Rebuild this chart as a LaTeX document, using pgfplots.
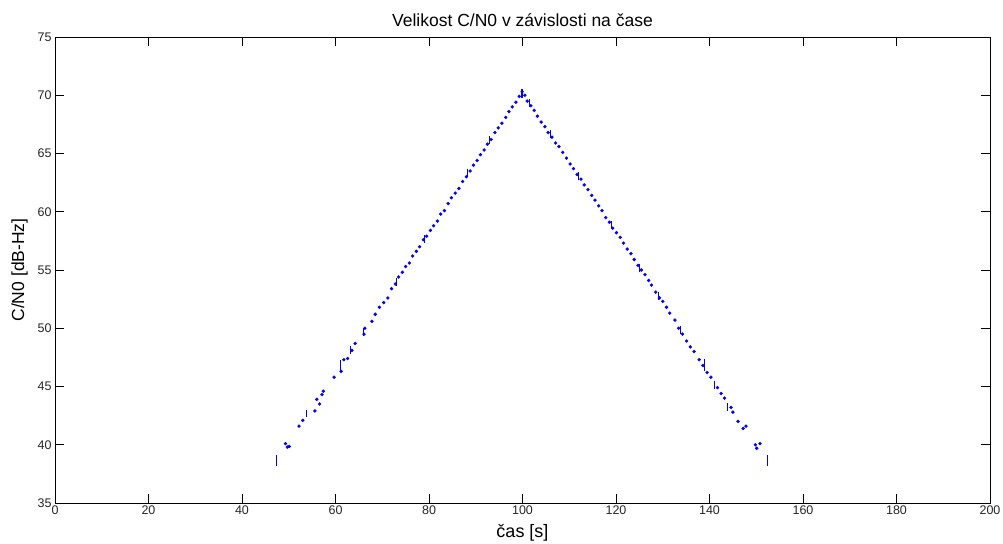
\documentclass[border=0pt]{standalone}
\usepackage{fontspec}
\setmainfont{Liberation Sans}
\usepackage{pgfplots}
\pgfplotsset{compat=1.18}
\begin{document}
\begin{tikzpicture}
\path[use as bounding box] (-55pt,-40pt) rectangle (948pt,503pt);
\begin{axis}[
  scale only axis,
  width=935pt, height=466pt,
  xmin=0, xmax=200, ymin=35, ymax=75,
  xtick={0,20,...,200}, ytick={35,40,...,75},
  tick align=inside,
  major tick length=9pt,
  axis line style={black, line width=0.8pt},
  tick style={black, line width=0.6pt},
  /pgf/number format/assume math mode=true,
  tick label style={font=\fontsize{12.5}{14}\selectfont, text=black!85},
  xticklabel style={yshift=1pt},
  title={Velikost C/N0 v závislosti na čase},
  title style={font=\fontsize{17.5}{20}\selectfont, yshift=1pt},
  xlabel={čas [s]},
  ylabel={C/N0 [dB-Hz]},
  xlabel style={font=\fontsize{18}{20}\selectfont, yshift=-3pt},
  ylabel style={font=\fontsize{17.5}{20}\selectfont, yshift=3pt},
  unbounded coords=jump,
]
\addplot[only marks, mark=*, mark size=1.5pt, color=blue] coordinates {
(49.3,40.1)(49.7,39.8)(50.1,39.85)(52.2,41.6)(53.0,42.1)(55.6,42.9)(56.0,43.9)
(56.6,43.5)(57.1,44.3)(57.4,44.6)(59.7,45.8)(61.2,46.3)(61.8,47.3)(62.6,47.4)
(63.5,48.1)(64.2,48.7)(66.1,49.5)(66.3,50.0)(67.8,50.6)(68.5,51.2)(69.4,51.8)
(70.3,52.2)(71.2,52.6)(72.0,53.4)(72.8,53.8)(73.5,54.4)(74.3,54.8)(75.0,55.3)
(75.8,55.6)(76.5,56.2)(77.3,56.6)(78.0,57.0)(78.8,57.6)(79.5,57.9)(80.3,58.4)
(81.0,58.8)(81.8,59.2)(82.5,59.8)(83.3,60.1)(84.1,60.7)(84.8,61.2)(85.6,61.6)
(86.4,62.0)(87.2,62.6)(88.0,63.0)(88.8,63.5)(89.5,64.0)(90.3,64.4)(91.0,64.9)
(91.8,65.3)(92.5,65.8)(93.3,66.2)(94.1,66.8)(94.8,67.2)(95.6,67.6)(96.4,68.1)
(97.1,68.6)(97.8,69.0)(98.6,69.4)(99.3,69.9)(99.9,70.3)
(100.5,70.0)(101.0,69.5)(101.8,69.1)(102.5,68.7)(103.2,68.2)(104.0,67.7)
(104.8,67.3)(105.5,66.8)(106.3,66.4)(107.1,65.9)(107.8,65.6)(108.6,65.1)
(109.4,64.6)(110.2,64.1)(110.9,63.7)(111.7,63.2)(112.5,62.8)(113.2,62.3)
(114.0,61.9)(114.8,61.4)(115.5,61.0)(116.3,60.5)(117.0,60.1)(117.8,59.5)
(118.6,59.1)(119.3,58.6)(120.1,58.2)(120.9,57.8)(121.6,57.3)(122.4,56.8)
(123.2,56.4)(123.9,55.9)(124.7,55.4)(125.4,55.0)(126.2,54.6)(127.0,54.1)
(127.6,53.7)(128.5,53.1)(129.3,52.6)(130.0,52.3)(130.8,51.8)(131.5,51.3)
(132.6,50.7)(133.4,50.0)(134.2,49.5)(135.1,48.9)(135.9,48.4)(136.7,48.0)
(137.8,47.3)(138.6,46.8)(139.5,46.2)(140.3,45.8)(141.7,44.9)(142.5,44.4)
(143.2,44.0)(144.6,43.2)(145.0,42.8)(146.1,42.0)(147.2,41.4)(147.8,41.6)
(149.8,40.0)(150.1,39.7)(150.8,40.1)
};
\addplot[color=blue, line width=1.1pt] coordinates {
(47.4,38.2)(47.4,39.1) (nan,nan)
(53.7,42.4)(53.7,43.0) (nan,nan)
(61.0,46.4)(61.0,47.3) (nan,nan)
(63.3,47.8)(63.3,48.5) (nan,nan)
(66.0,49.3)(66.0,50.0) (nan,nan)
(73.0,53.6)(73.0,54.3) (nan,nan)
(79.0,57.3)(79.0,58.0) (nan,nan)
(88.3,63.0)(88.3,63.7) (nan,nan)
(93.0,65.8)(93.0,66.5) (nan,nan)
(99.9,69.8)(99.9,70.5) (nan,nan)
(101.5,69.0)(101.5,69.7) (nan,nan)
(106.0,66.3)(106.0,67.0) (nan,nan)
(112.0,62.7)(112.0,63.4) (nan,nan)
(119.0,58.5)(119.0,59.2) (nan,nan)
(125.0,54.8)(125.0,55.5) (nan,nan)
(129.0,52.4)(129.0,53.1) (nan,nan)
(133.8,49.5)(133.8,50.2) (nan,nan)
(139.0,46.3)(139.0,47.4) (nan,nan)
(141.0,44.8)(141.0,45.5) (nan,nan)
(143.8,42.9)(143.8,43.6) (nan,nan)
(152.5,38.2)(152.5,39.1)
};
\end{axis}
\end{tikzpicture}
\end{document}
